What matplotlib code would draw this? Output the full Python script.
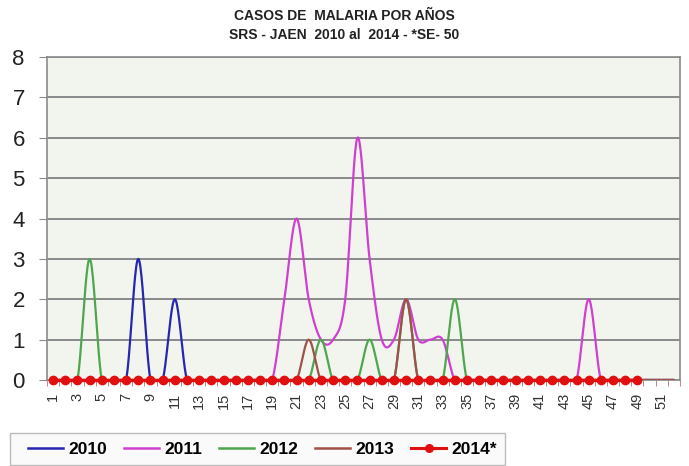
import numpy as np
import matplotlib
matplotlib.use("Agg")
import matplotlib.pyplot as plt
from matplotlib.lines import Line2D
from matplotlib.patches import Rectangle

weeks = list(range(1, 53))
tick_labels = [str(w) for w in range(1, 53, 2)]

def series_from(points, n=52):
    vals = [0] * n
    for wk, v in points.items():
        vals[wk - 1] = v
    return vals

cases_2010 = series_from({8: 3, 11: 2})
cases_2011 = series_from({20: 2, 21: 4, 22: 2, 23: 1, 24: 1, 25: 2, 26: 6, 27: 3,
                          28: 1, 29: 1, 30: 2, 31: 1, 32: 1, 33: 1, 45: 2})
cases_2012 = series_from({4: 3, 23: 1, 27: 1, 30: 2, 34: 2})
cases_2013 = series_from({22: 1, 30: 2})
cases_2014 = [0] * 49

series_names = ["2010", "2011", "2012", "2013", "2014*"]
colors = ["#2626B0", "#D040D0", "#4FA64F", "#A0504A", "#E01010"]


def smooth(x, y, steps=24):
    x = np.asarray(x, float)
    y = np.asarray(y, float)
    px = np.concatenate([[x[0]], x, [x[-1]]])
    py = np.concatenate([[y[0]], y, [y[-1]]])
    xs, ys = [], []
    t = np.linspace(0, 1, steps)
    for i in range(1, len(px) - 2):
        p0 = np.array([px[i], py[i]])
        p3 = np.array([px[i + 1], py[i + 1]])
        c1 = p0 + (np.array([px[i + 1], py[i + 1]]) - np.array([px[i - 1], py[i - 1]])) / 6
        c2 = p3 - (np.array([px[i + 2], py[i + 2]]) - np.array([px[i], py[i]])) / 6
        b = ((1 - t) ** 3)[:, None] * p0 + (3 * (1 - t) ** 2 * t)[:, None] * c1 \
            + (3 * (1 - t) * t ** 2)[:, None] * c2 + (t ** 3)[:, None] * p3
        xs.extend(b[:, 0]); ys.extend(b[:, 1])
    return np.array(xs), np.array(ys)


fig = plt.figure(figsize=(6.89, 4.66), dpi=100)
ax = fig.add_axes([47 / 689, 1 - 380 / 466, (680 - 47) / 689, (380 - 57) / 466])
ax.set_facecolor("#F2F5EE")

base_font = ["Liberation Sans", "DejaVu Sans"]
fig.text(0.5, 1 - 16 / 466, "CASOS DE  MALARIA POR AÑOS", ha="center", va="center",
         fontsize=10, fontweight="bold", family=base_font, color="#222222")
fig.text(0.5, 1 - 35 / 466, "SRS - JAEN  2010 al  2014 - *SE- 50", ha="center", va="center",
         fontsize=10, fontweight="bold", family=base_font, color="#222222")

for vals, col in zip([cases_2010, cases_2011, cases_2012, cases_2013], colors[:4]):
    sx, sy = smooth(weeks[:len(vals)], vals)
    ax.plot(sx, sy, color=col, lw=1.6, solid_capstyle="round", zorder=3)

ax.plot(weeks[:len(cases_2014)], cases_2014, color=colors[4], lw=2.4, marker="o",
        markersize=6, markerfacecolor=colors[4], markeredgecolor=colors[4], zorder=4,
        clip_on=False)

ax.set_xlim(0.5, 52.5)
ax.set_ylim(0, 8)
ax.set_yticks(range(0, 9))
ax.yaxis.grid(True, color="#8A8A8A", lw=1.4)
ax.set_axisbelow(True)
ax.tick_params(axis="y", labelsize=16, length=6, color="#8A8A8A", pad=10,
               labelcolor="#222222")
for lab in ax.get_yticklabels():
    lab.set_family(base_font)

ax.set_xticks(range(1, 53, 2))
ax.set_xticklabels(tick_labels, rotation=90, fontsize=10.5, color="#333333",
                   family=base_font)
ax.set_xticks(np.arange(0.5, 53, 1), minor=True)
ax.tick_params(axis="x", which="major", length=0, pad=9)
ax.tick_params(axis="x", which="minor", length=4, color="#C07070")

for s in ax.spines.values():
    s.set_color("#8A8A8A")
    s.set_linewidth(1.2)

# legend frame drawn separately
fig.patches.append(Rectangle((10 / 689, 1 - 465 / 466), (505 - 10) / 689, 32 / 466,
                             transform=fig.transFigure, facecolor="#FAFAFA",
                             edgecolor="#BBBBBB", lw=1.0, zorder=0))

handles = []
for i, (name, col) in enumerate(zip(series_names, colors)):
    if i == 4:
        handles.append(Line2D([], [], color=col, lw=2.2, marker="o", markersize=5.5))
    else:
        handles.append(Line2D([], [], color=col, lw=1.8))
leg = fig.legend(handles, series_names, loc="center left",
                 bbox_to_anchor=(28 / 689, 1 - 449 / 466),
                 ncol=5, frameon=False,
                 prop={"family": base_font, "weight": "bold", "size": 12.5},
                 handlelength=2.0, handletextpad=0.3, columnspacing=1.0,
                 borderpad=0.0, borderaxespad=0)

fig.savefig("out.png", dpi=100)
